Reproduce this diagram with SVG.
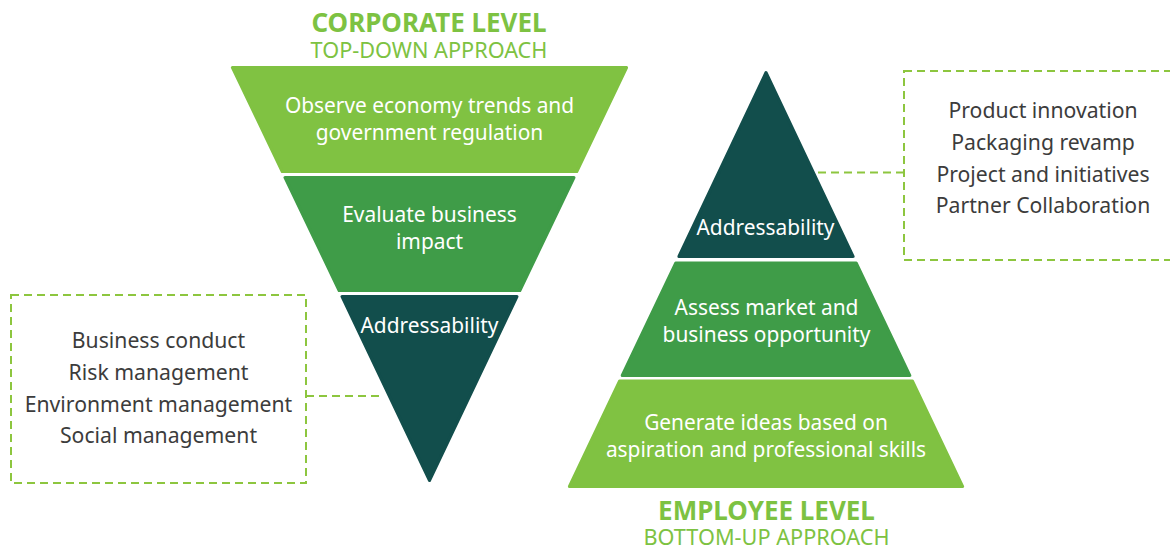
<svg xmlns="http://www.w3.org/2000/svg" width="1170" height="548" viewBox="0 0 1170 548">
<style>
.lg{fill:#80c242;stroke:#80c242}
.mg{fill:#3f9c48;stroke:#3f9c48}
.dk{fill:#124e4c;stroke:#124e4c}
.seg{stroke-width:3;stroke-linejoin:round}
.in{font-family:"Noto Sans","Open Sans",sans-serif;font-size:20.9px;fill:#ffffff;text-anchor:middle}
.bx{font-family:"Noto Sans","Open Sans",sans-serif;font-size:21.2px;fill:#3c3c3c;text-anchor:middle}
.ttl{font-family:"Noto Sans","Open Sans",sans-serif;font-size:26px;font-weight:bold;fill:#7dc242;text-anchor:middle}
.sub{font-family:"Noto Sans","Open Sans",sans-serif;font-size:21.7px;fill:#7dc242;text-anchor:middle}
.dash{fill:none;stroke:#8dc63f;stroke-width:2;stroke-dasharray:8 5}
</style>
<rect width="1170" height="548" fill="#ffffff"/>

<g id="corporate-title">
<text class="ttl" x="429" y="32">CORPORATE LEVEL</text>
<text class="sub" x="429" y="58">TOP-DOWN APPROACH</text>
</g>

<g id="corp-observe">
<polygon class="lg seg" points="232.4,67.5 626.6,67.5 576.8,171.5 282.2,171.5"/>
<text class="in" x="429.5" y="113">Observe economy trends and</text>
<text class="in" x="429.5" y="140">government regulation</text>
</g>
<g id="corp-evaluate">
<polygon class="mg seg" points="285,177.5 574,177.5 519.9,290.5 339.1,290.5"/>
<text class="in" x="429.5" y="222">Evaluate business</text>
<text class="in" x="429.5" y="249">impact</text>
</g>
<g id="corp-address">
<polygon class="dk seg" points="342,296.5 517,296.5 429.5,480.5"/>
<text class="in" x="429.5" y="333">Addressability</text>
</g>

<g id="corp-box">
<rect class="dash" x="11" y="295" width="295" height="188"/>
<text class="bx" x="158.5" y="348">Business conduct</text>
<text class="bx" x="158.5" y="380">Risk management</text>
<text class="bx" x="158.5" y="412">Environment management</text>
<text class="bx" x="158.5" y="443">Social management</text>
</g>

<g id="emp-address">
<polygon class="dk seg" points="766,72.5 853.1,256.5 678.9,256.5"/>
<text class="in" x="765.5" y="235">Addressability</text>
</g>
<g id="emp-assess">
<polygon class="mg seg" points="675.8,263 856.2,263 909.8,375.5 622.2,375.5"/>
<text class="in" x="766.5" y="315">Assess market and</text>
<text class="in" x="766.5" y="342">business opportunity</text>
</g>
<g id="emp-generate">
<polygon class="lg seg" points="619.6,381 912.4,381 962.6,486.5 569.4,486.5"/>
<text class="in" x="766" y="430">Generate ideas based on</text>
<text class="in" x="766" y="457">aspiration and professional skills</text>
</g>

<g id="emp-box">
<rect class="dash" x="904" y="71" width="280" height="189"/>
<text class="bx" x="1043" y="118">Product innovation</text>
<text class="bx" x="1043" y="150">Packaging revamp</text>
<text class="bx" x="1043" y="182">Project and initiatives</text>
<text class="bx" x="1043" y="213">Partner Collaboration</text>
</g>

<g id="employee-title">
<text class="ttl" x="766.5" y="520">EMPLOYEE LEVEL</text>
<text class="sub" x="766.5" y="545">BOTTOM-UP APPROACH</text>
</g>

<g id="connectors">
<line class="dash" x1="306" y1="396" x2="380" y2="396"/>
<line class="dash" x1="818" y1="172.5" x2="904" y2="172.5"/>
</g>
</svg>
